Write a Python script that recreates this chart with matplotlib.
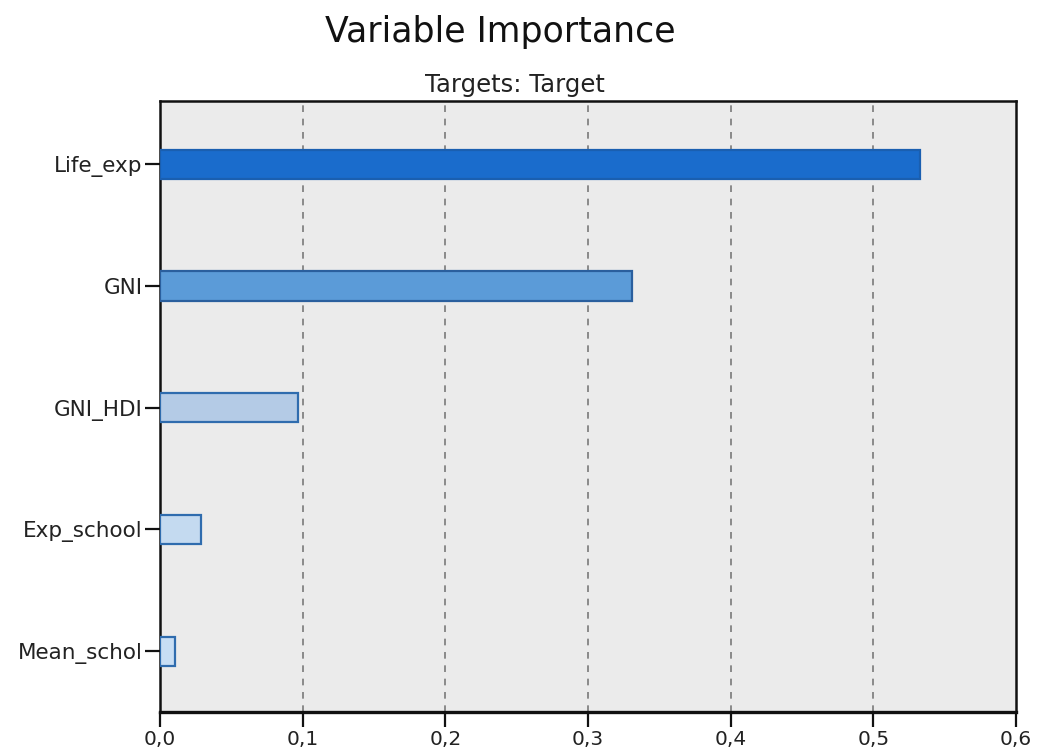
import matplotlib
matplotlib.use("Agg")
import matplotlib.pyplot as plt

categories = ["Life_exp", "GNI", "GNI_HDI", "Exp_school", "Mean_schol"]
importance = [0.533, 0.331, 0.097, 0.0285, 0.0103]
fill_colors = ["#1a6ccc", "#5b9bd8", "#b4cbe6", "#c4daf0", "#c8def4"]
edge_colors = ["#1a5fb0", "#2a5f9e", "#2f6cae", "#2f6cae", "#2f6cae"]
x_ticks = [0.0, 0.1, 0.2, 0.3, 0.4, 0.5, 0.6]
x_tick_labels = ["0,0", "0,1", "0,2", "0,3", "0,4", "0,5", "0,6"]
title = "Variable Importance"
subtitle = "Targets: Target"

plt.rcParams['font.family'] = ['DejaVu Sans']

W, H = 1038, 756
fig = plt.figure(figsize=(W / 100, H / 100), dpi=100)
ax = fig.add_axes([160 / W, 1 - 712 / H, (1016 - 160) / W, (712 - 101) / H])
ax.set_facecolor("#ebebeb")

ypos = list(range(len(categories)))
ax.barh(ypos, importance, height=0.24, color=fill_colors,
        edgecolor=edge_colors, linewidth=1.6, zorder=3)

ax.set_xlim(0, 0.6)
ax.set_ylim(len(categories) - 0.5, -0.52)
ax.set_xticks(x_ticks)
ax.set_xticklabels(x_tick_labels, fontsize=14.5, color="#222222")
ax.set_yticks(ypos)
ax.set_yticklabels(categories, fontsize=15.5, color="#222222")

for xv in x_ticks[1:-1]:
    ax.axvline(xv, color="#7a7a7a", linestyle=(0, (4, 4)), linewidth=1.2, zorder=2)

for s in ax.spines.values():
    s.set_color("#111111")
    s.set_linewidth(1.8)
ax.spines['bottom'].set_linewidth(2.4)

ax.tick_params(axis='x', direction='out', length=10.5, width=1.6, color="#111111", pad=2.5)
ax.tick_params(axis='y', direction='out', length=10.5, width=1.6, color="#111111", pad=2)

fig.text(500 / W, 1 - 42 / H, title, fontsize=25, ha='center', va='baseline', color="#111111")
fig.text(515 / W, 1 - 92 / H, subtitle, fontsize=17.5, ha='center', va='baseline', color="#222222")

fig.savefig("out.png", dpi=100, facecolor="white")
